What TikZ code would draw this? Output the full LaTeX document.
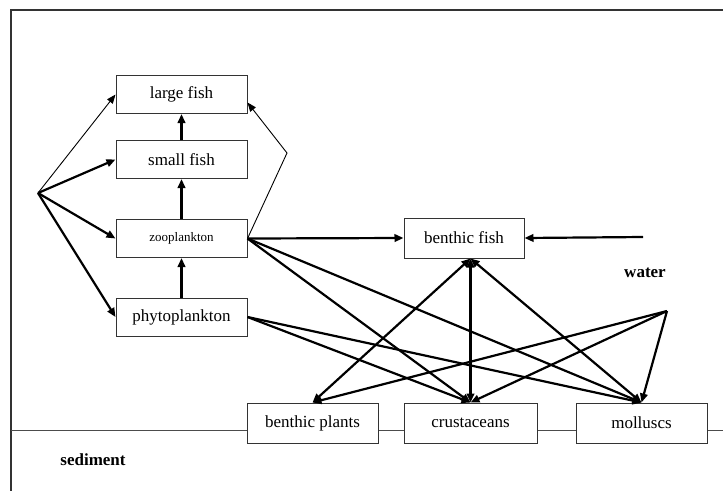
\documentclass[tikz,border=0pt]{standalone}
\usepackage{fontspec}
\setmainfont{Liberation Serif}
\usetikzlibrary{arrows.meta,calc}

\begin{document}
\begin{tikzpicture}[
  x=1pt, y=-1pt,
  font=\fontsize{17}{19}\selectfont,
  box/.style={draw=black!80, line width=1pt, fill=white, minimum width=131pt, minimum height=38pt, inner sep=0pt},
  flow/.style={-{Triangle[length=9pt,width=7.5pt]}, line width=2.2pt},
  mutual/.style={{Triangle[length=9pt,width=7.5pt]}-{Triangle[length=9pt,width=7.5pt]}, line width=2.2pt},
  faint/.style={-{Triangle[length=9pt,width=7pt]}, line width=0.9pt},
  zone/.style={font=\fontsize{17}{19}\selectfont\bfseries}
]
\useasboundingbox (0,0) rectangle (723,491);
\draw[line width=1.5pt, black!80] (723,10) -- (11,10) -- (11,491);
\draw[line width=1pt, black!70] (11,430) -- (723,430);
\node[box] (lfish) at (181.5,94.5) {large fish};
\node[box] (sfish) at (181.5,159.5) {small fish};
\node[box, font=\fontsize{13}{15}\selectfont] (zoo) at (181.5,238.5) {zooplankton};
\node[box] (phyto) at (181.5,317) {phytoplankton};
\node[box, minimum width=120pt, minimum height=40pt] (bfish) at (464,238) {benthic fish};
\node[box, minimum height=40pt] (bplants) at (312.5,423) {benthic plants};
\node[box, minimum width=133pt, minimum height=40pt] (crust) at (470.5,423) {crustaceans};
\node[box, minimum height=40pt] (moll) at (641.5,423) {molluscs};
\node[zone] (water) at (645,273) {water};
\node[zone] (sediment) at (93,460) {sediment};
\coordinate (import) at (38,193);
\coordinate (bend) at (287,153);
\coordinate (inflow) at (643,237);
\coordinate (wsrc) at (667,311);
\draw[faint] (import) -- (lfish.west);
\foreach \t in {sfish,zoo,phyto}{\draw[flow] (import) -- (\t.west);}
\draw[flow] (phyto) -- (zoo);
\draw[flow] (zoo) -- (sfish);
\draw[flow] (sfish) -- (lfish);
\draw[faint] (zoo.east) -- (bend) -- ($(lfish.east)+(0,8)$);
\draw[flow] (zoo.east) -- (bfish.west);
\draw[flow] (inflow) -- (bfish.east);
\foreach \t in {crust,moll}{
  \draw[flow] (zoo.east) -- (\t.north);
  \draw[flow] (phyto.east) -- (\t.north);
}
\foreach \t in {bplants,crust,moll}{
  \draw[mutual] (\t.north) -- (bfish.south -| crust.north);
  \draw[flow] (wsrc) -- (\t.north);
}
\end{tikzpicture}
\end{document}
